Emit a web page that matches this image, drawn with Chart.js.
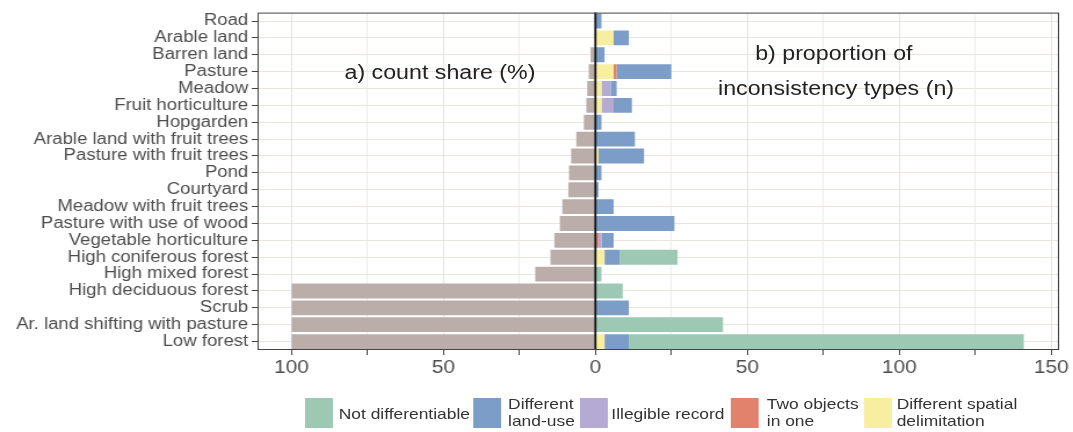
<!DOCTYPE html>
<html>
<head>
<meta charset="utf-8">
<script src="https://cdn.jsdelivr.net/npm/chart.js@4.4.1/dist/chart.umd.min.js"></script>
<style>
  body { margin: 0; background: #fff; font-family: "Liberation Sans", Arial, sans-serif; overflow: hidden; }
  /* the reference figure is stretched horizontally, so the whole page is drawn narrow and widened */
  #wrap { position: relative; width: 925px; height: 432px; overflow: hidden; transform: scaleX(1.16); transform-origin: 0 0; }
  #box { position: absolute; left: 0; top: 0; width: 925px; height: 385px; }
  .note { position: absolute; font-size: 20px; color: #222; white-space: nowrap; }
  .sw { position: absolute; top: 398px; width: 24px; height: 30px; }
  .lab { position: absolute; font-size: 15px; color: #333; line-height: 17px; white-space: nowrap; }
</style>
</head>
<body>
<div id="wrap">
  <div id="box"><canvas id="chart"></canvas></div>

  <div class="note" style="left:297px;top:61px;">a) count share (%)</div>
  <div class="note" style="left:651px;top:42px;">b) proportion of</div>
  <div class="note" style="left:619px;top:77px;">inconsistency types (n)</div>

  <!-- legend -->
  <div class="sw" style="left:263px;background:#9dc9b4"></div>
  <div class="lab" style="left:292px;top:405px;">Not differentiable</div>
  <div class="sw" style="left:408px;background:#7b9dc8"></div>
  <div class="lab" style="left:438px;top:395px;">Different<br>land-use</div>
  <div class="sw" style="left:500px;background:#b5aad3"></div>
  <div class="lab" style="left:527px;top:405px;">Illegible record</div>
  <div class="sw" style="left:630px;background:#e1826c"></div>
  <div class="lab" style="left:661px;top:395px;">Two objects<br>in one</div>
  <div class="sw" style="left:745px;background:#f7ee9f"></div>
  <div class="lab" style="left:773px;top:395px;">Different spatial<br>delimitation</div>
</div>

<script>
// land-use classes, top to bottom
const categories = [
  'Road', 'Arable land', 'Barren land', 'Pasture', 'Meadow', 'Fruit horticulture',
  'Hopgarden', 'Arable land with fruit trees', 'Pasture with fruit trees', 'Pond',
  'Courtyard', 'Meadow with fruit trees', 'Pasture with use of wood',
  'Vegetable horticulture', 'High coniferous forest', 'High mixed forest',
  'High deciduous forest', 'Scrub', 'Ar. land shifting with pasture', 'Low forest'
];

// a) count share (%), drawn to the left of zero
const countShare = [0, 0, 1.6, 2.2, 2.7, 3, 3.8, 6.3, 8, 8.7, 8.9, 10.9, 11.7, 13.5, 14.8, 19.8, 100, 100, 100, 100];

// b) inconsistency types (n), stacked to the right
const spatialDelim  = [0, 6, 0, 6, 2, 2, 0, 0, 1, 0, 0, 0, 0, 0, 3, 0, 0, 0, 0, 3];
const twoObjects    = [0, 0, 0, 1, 0, 0, 0, 0, 0, 0, 0, 0, 0, 1, 0, 0, 0, 0, 0, 0];
const illegible     = [0, 0, 0, 0, 3, 4, 0, 0, 0, 0, 0, 0, 0, 1, 0, 0, 0, 0, 0, 0];
const landUse       = [2, 5, 3, 18, 2, 6, 2, 13, 15, 2, 1, 6, 26, 4, 5, 0, 0, 11, 0, 8];
const notDiff       = [0, 0, 0, 0, 0, 0, 0, 0, 0, 0, 0, 0, 0, 0, 19, 2, 9, 0, 42, 130];

const xTicks = [-100, -75, -50, -25, 0, 25, 50, 75, 100, 125, 150];

const frame = {
  id: 'frame',
  afterDatasetsDraw(chart) {
    const { ctx, chartArea: a, scales } = chart;
    const x0 = scales.x.getPixelForValue(0);
    ctx.save();
    ctx.strokeStyle = '#111';
    ctx.lineWidth = 1.8;
    ctx.beginPath();
    ctx.moveTo(x0, a.top);
    ctx.lineTo(x0, a.bottom);
    ctx.stroke();
    ctx.strokeStyle = '#444';
    ctx.lineWidth = 1;
    ctx.strokeRect(a.left + 0.5, a.top + 0.5, a.right - a.left - 1, a.bottom - a.top - 1);
    ctx.restore();
  }
};

const bar = { stack: 's', barPercentage: 0.88, categoryPercentage: 1, borderWidth: 0 };
const fontFamily = '"Liberation Sans", Arial, sans-serif';

new Chart(document.getElementById('chart'), {
  type: 'bar',
  data: {
    labels: categories,
    datasets: [
      { ...bar, label: 'Different spatial delimitation', data: spatialDelim, backgroundColor: '#f7ee9f' },
      { ...bar, label: 'Two objects in one', data: twoObjects, backgroundColor: '#e1826c' },
      { ...bar, label: 'Illegible record', data: illegible, backgroundColor: '#b5aad3' },
      { ...bar, label: 'Different land-use', data: landUse, backgroundColor: '#7b9dc8' },
      { ...bar, label: 'Not differentiable', data: notDiff, backgroundColor: '#9dc9b4' },
      { ...bar, label: 'count share (%)', data: countShare.map(v => -v), backgroundColor: '#bbaeaa' }
    ]
  },
  options: {
    indexAxis: 'y',
    responsive: true,
    maintainAspectRatio: false,
    animation: false,
    layout: { padding: { top: 9, right: 12, left: 0, bottom: 0 } },
    plugins: { legend: { display: false }, tooltip: { enabled: false } },
    scales: {
      x: {
        stacked: true,
        min: -111.2,
        max: 152.6,
        afterBuildTicks: s => { s.ticks = xTicks.map(v => ({ value: v })); },
        afterFit: s => { s.height = 35; },
        grid: {
          color: c => (c.tick && c.tick.value % 50 === 0) ? '#e9e3dd' : '#f1ede9',
          tickColor: '#444',
          tickLength: 5
        },
        border: { display: false },
        ticks: {
          autoSkip: false,
          maxRotation: 0,
          padding: 2,
          color: '#4d4d4d',
          font: { family: fontFamily, size: 18 },
          callback: v => (v % 50 === 0 ? Math.abs(v) : '')
        }
      },
      y: {
        stacked: true,
        afterFit: s => { s.width = 222; },
        grid: { offset: false, color: '#ebe5df', tickColor: '#444', tickLength: 5 },
        border: { display: false },
        ticks: {
          autoSkip: false,
          padding: 3,
          color: '#4d4d4d',
          font: { family: fontFamily, size: 16 }
        }
      }
    }
  },
  plugins: [frame]
});
</script>
</body>
</html>
